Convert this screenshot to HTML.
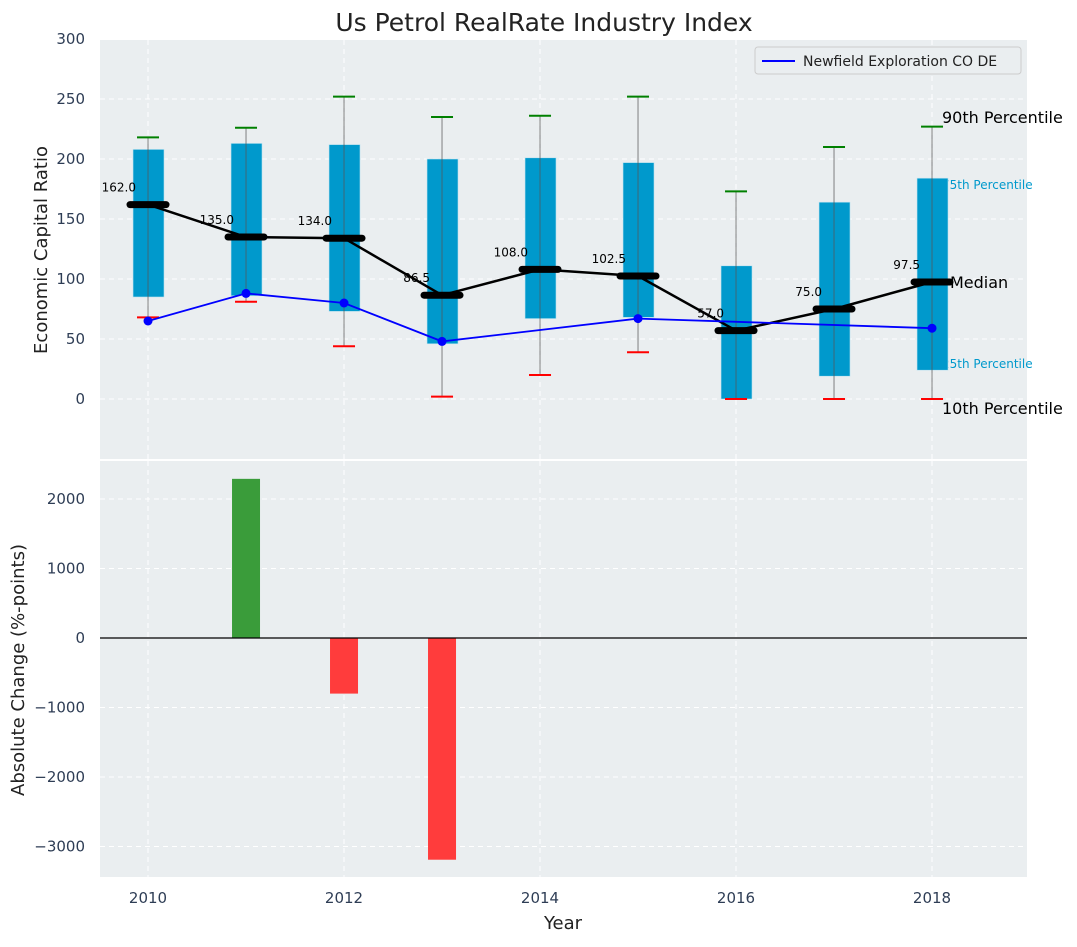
<!DOCTYPE html>
<html><head><meta charset="utf-8"><style>
body{margin:0;background:#fff;font-family:"Liberation Sans","DejaVu Sans",sans-serif}
</style></head><body>
<svg id="chart" width="1077" height="942" xmlns="http://www.w3.org/2000/svg" font-family="DejaVu Sans, Liberation Sans, sans-serif">
<rect width="1077" height="942" fill="#fff"/>
<text x="544" y="31" font-size="25" text-anchor="middle" fill="#222">Us Petrol RealRate Industry Index</text>
<rect x="100" y="40" width="927" height="419" fill="#eaeef0"/>
<rect x="100" y="461" width="927" height="416" fill="#eaeef0"/>
<g id="topg"></g><g id="botg"></g>
<text x="47" y="250" font-size="18" fill="#222" text-anchor="middle" transform="rotate(-90 47 250)">Economic Capital Ratio</text>
<text x="24" y="670" font-size="18" fill="#222" text-anchor="middle" transform="rotate(-90 24 670)">Absolute Change (%-points)</text>
<text x="563" y="929" font-size="18" fill="#222" text-anchor="middle">Year</text>
<g>
<rect x="755" y="47" width="266" height="27" rx="3" fill="#eaeef0" stroke="#ccc"/>
<line x1="762" y1="61" x2="795" y2="61" stroke="#0000ff" stroke-width="2"/>
<text x="803" y="66" font-size="14" fill="#222">Newfield Exploration CO DE</text>
</g>
</svg>
<script>
const years=[2010,2011,2012,2013,2014,2015,2016,2017,2018];
const p10=[68,81,44,2,20,39,0,0,0];
const q1=[85,86,73,46,67,68,0,19,24];
const med=[162,135,134,86.5,108,102.5,57,75,97.5];
const q3=[208,213,212,200,201,197,111,164,184];
const p90=[218,226,252,235,236,252,173,210,227];
const company=[65,88,80,48,null,67,null,null,59];
const changeYears=[2011,2012,2013];
const changes=[2290,-800,-3190];
const yTicksTop=[0,50,100,150,200,250,300];
const yTicksBot=[-3000,-2000,-1000,0,1000,2000];
const xTicks=[2010,2012,2014,2016,2018];

const NS="http://www.w3.org/2000/svg";
const X=v=>100+(v-2009.51)*98;
const Yt=v=>399-v*1.2;
const Yb=v=>638-v*0.0695;
function mk(p,tag,a){const e=document.createElementNS(NS,tag);for(const k in a)e.setAttribute(k,a[k]);p.appendChild(e);return e;}
const topG=document.getElementById('topg'),botG=document.getElementById('botg');

yTicksTop.forEach(v=>{const g=mk(topG,'line',{x1:100,x2:1027,y1:Yt(v),y2:Yt(v),stroke:'#fff','stroke-dasharray':'5,4'});


const t=mk(topG,'text',{x:85,y:Yt(v)+5,'font-size':15,fill:'#2e3d55','text-anchor':'end'});t.textContent=v;

});
yTicksBot.forEach(v=>{const g=mk(botG,'line',{x1:100,x2:1027,y1:Yb(v),y2:Yb(v),stroke:'#fff','stroke-dasharray':'5,4'});


const t=mk(botG,'text',{x:85,y:Yb(v)+5,'font-size':15,fill:'#2e3d55','text-anchor':'end'});t.textContent=(v<0?'\u2212'+(-v):v);

});
xTicks.forEach(v=>{[[40,459],[461,877]].forEach(r=>{const g=mk(topG,'line',{x1:X(v),x2:X(v),y1:r[0],y2:r[1],stroke:'#fff','stroke-dasharray':'5,4'});

});
const t=mk(botG,'text',{x:X(v),y:903,'font-size':15,fill:'#2e3d55','text-anchor':'middle'});t.textContent=v;

});

const L=mk(topG,'text',{x:942,y:123,'font-size':16,fill:'#000'});L.textContent='90th Percentile';


const L2=mk(topG,'text',{x:942,y:189,'font-size':12,fill:'#0099cc'});L2.textContent='75th Percentile';


const L3=mk(topG,'text',{x:942,y:368,'font-size':12,fill:'#0099cc'});L3.textContent='25th Percentile';



years.forEach((y,i)=>{const x=X(y);
const b=mk(topG,'rect',{x:x-15,y:Yt(q3[i]),width:31,height:Yt(q1[i])-Yt(q3[i]),fill:'#0099cc',stroke:'#bfe3ef','stroke-width':0.6});


const w=mk(topG,'line',{x1:x,x2:x,y1:Yt(p10[i]),y2:Yt(p90[i]),stroke:'#555','stroke-opacity':0.6,'stroke-width':1.2});


const c1=mk(topG,'line',{x1:x-11,x2:x+11,y1:Yt(p90[i]),y2:Yt(p90[i]),stroke:'green','stroke-width':2});


const c2=mk(topG,'line',{x1:x-11,x2:x+11,y1:Yt(p10[i]),y2:Yt(p10[i]),stroke:'red','stroke-width':2});

});

const L4=mk(topG,'text',{x:950,y:288,'font-size':16,fill:'#000'});L4.textContent='Median';


const L5=mk(topG,'text',{x:942,y:414,'font-size':16,fill:'#000'});L5.textContent='10th Percentile';



const ml=mk(topG,'polyline',{points:years.map((y,i)=>X(y)+','+Yt(med[i])).join(' '),fill:'none',stroke:'#000','stroke-width':2.5});


years.forEach((y,i)=>{const m=mk(topG,'line',{x1:X(y)-18,x2:X(y)+18,y1:Yt(med[i]),y2:Yt(med[i]),stroke:'#000','stroke-width':7,'stroke-linecap':'round'});


const t=mk(topG,'text',{x:X(y)-12,y:Yt(med[i])-13,'font-size':12,fill:'#000','text-anchor':'end'});t.textContent=med[i].toFixed(1);

});

const pts=years.map((y,i)=>company[i]==null?null:[X(y),Yt(company[i])]).filter(p=>p);
const cl=mk(topG,'polyline',{points:pts.map(p=>p.join(',')).join(' '),fill:'none',stroke:'#0000ff','stroke-width':1.8});


pts.forEach(p=>{const d=mk(topG,'circle',{cx:p[0],cy:p[1],r:4.5,fill:'#0000ff'});

});

changeYears.forEach((y,i)=>{const v=changes[i];const r=mk(botG,'rect',{x:X(y)-14,width:28,y:Math.min(Yb(v),Yb(0)),height:Math.abs(Yb(v)-Yb(0)),fill:v>=0?'#3a9c3a':'#ff3c3c'});

});
const z=mk(botG,'line',{x1:100,x2:1027,y1:Yb(0),y2:Yb(0),stroke:'#000','stroke-width':1.3});


</script>
</body></html>
